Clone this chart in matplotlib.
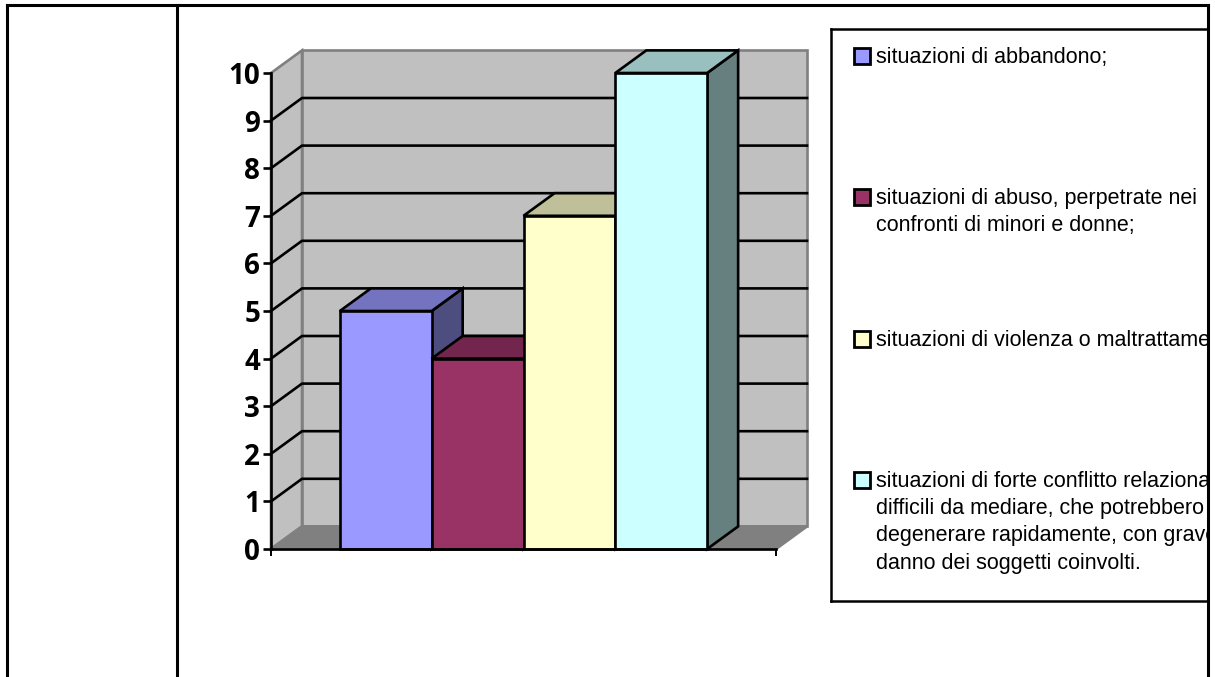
import matplotlib
matplotlib.use('Agg')
import matplotlib.pyplot as plt
import matplotlib.colors as mcolors
from matplotlib.patches import Polygon, Rectangle
import numpy as np

#-------------------------------------------------------------
# data
labels = ['situazioni di abbandono;',
          'situazioni di abuso, perpetrate nei\nconfronti di minori e donne;',
          'situazioni di violenza o maltrattamento;',
          'situazioni di forte conflitto relazionale,\ndifficili da mediare, che potrebbero\n'
          'degenerare rapidamente, con grave\ndanno dei soggetti coinvolti.']
values = [5, 4, 7, 10]
colors = ['#9999FF', '#993366', '#FFFFCC', '#CCFFFF']
yticks = [0, 1, 2, 3, 4, 5, 6, 7, 8, 9, 10]

#-------------------------------------------------------------
# page / layout (pixels)
W, H = 1215, 677
fig = plt.figure(figsize=(W / 100, H / 100), dpi=100)

x0_px, x1_px = 271, 776      # front plane left / right
y0_px, ytop_px = 549, 73     # value 0 / top value
depth_px = (31, 22.6)        # 3d offset of the back wall
gap = 0.75                   # space at each side, in bar widths

n = len(values)
sx = (x1_px - x0_px) / (n + 2 * gap)
sy = (y0_px - ytop_px) / (yticks[-1] - yticks[0])
DX = depth_px[0] / sx
DY = depth_px[1] / sy

ax_l, ax_r, ax_t, ax_b = 240, 840, 30, 580
ax = fig.add_axes([ax_l / W, (H - ax_b) / H, (ax_r - ax_l) / W, (ax_b - ax_t) / H])
xa = -0.5 - gap
xb = n - 0.5 + gap
xmin = xa - (x0_px - ax_l) / sx
ymin = -(ax_b - y0_px) / sy
ax.set_xlim(xmin, xmin + (ax_r - ax_l) / sx)
ax.set_ylim(ymin, ymin + (ax_b - ax_t) / sy)
ax.patch.set_visible(False)

top = yticks[-1]
wall = '#C0C0C0'
edge = '#808080'
lw = 1.9

# side wall, back wall, floor
ax.add_patch(Polygon([(xa, 0), (xa + DX, DY), (xa + DX, top + DY), (xa, top)],
                     closed=True, fc=wall, ec=edge, lw=lw, zorder=1))
ax.add_patch(Rectangle((xa + DX, DY), xb - xa, top, fc=wall, ec=edge, lw=lw, zorder=1))
ax.add_patch(Polygon([(xa, 0), (xb, 0), (xb + DX, DY), (xa + DX, DY)],
                     closed=True, fc=edge, ec=edge, lw=lw, zorder=1))

# gridlines on side + back wall
for v in yticks[1:-1]:
    ax.plot([xa, xa + DX, xb + DX], [v, v + DY, v + DY], color='black', lw=lw, zorder=1.5)

# 3d bars, left to right so the next front face hides the previous side
for i, (v, c) in enumerate(zip(values, colors)):
    rgb = np.array(mcolors.to_rgb(c))
    l, r = i - 0.5, i + 0.5
    ax.add_patch(Polygon([(r, 0), (r + DX, DY), (r + DX, v + DY), (r, v)], closed=True,
                         fc=rgb * 0.5, ec='black', lw=lw, zorder=2))
    ax.add_patch(Polygon([(l, v), (r, v), (r + DX, v + DY), (l + DX, v + DY)], closed=True,
                         fc=rgb * 0.75, ec='black', lw=lw, zorder=2))
    ax.add_patch(Rectangle((l, 0), 1, v, fc=c, ec='black', lw=lw, zorder=2))

# axes lines
for s in ['top', 'right']:
    ax.spines[s].set_visible(False)
ax.spines['left'].set_position(('data', xa))
ax.spines['left'].set_bounds(0, top)
ax.spines['bottom'].set_position(('data', 0))
ax.spines['bottom'].set_bounds(xa, xb)
for s in ['left', 'bottom']:
    ax.spines[s].set_linewidth(lw)
    ax.spines[s].set_zorder(3)

ax.set_yticks(yticks)
ax.set_yticklabels([str(t) for t in yticks], fontfamily='Open Sans', fontweight='bold', fontsize=20)
ax.tick_params(axis='y', direction='out', length=5.8, width=lw, pad=2)
ax.set_xticks([xa, xb])
ax.set_xticklabels(['', ''])
ax.tick_params(axis='x', direction='out', length=5.2, width=1.4)

#-------------------------------------------------------------
# legend box
lg_l, lg_r, lg_t, lg_b = 831, 1208, 29, 601
lg = fig.add_axes([lg_l / W, (H - lg_b) / H, (lg_r - lg_l) / W, (lg_b - lg_t) / H])
lg.set_xlim(0, lg_r - lg_l)
lg.set_ylim(lg_b - lg_t, 0)
lg.set_xticks([])
lg.set_yticks([])
lg.spines['right'].set_visible(False)
for s in ['left', 'top', 'bottom']:
    lg.spines[s].set_linewidth(1.8)

step = 141.3
line_h = 27.2
for k, (lab, c) in enumerate(zip(labels, colors)):
    yc = 27 + k * step
    lg.add_patch(Rectangle((23, yc - 8), 16, 16, fc=c, ec='black', lw=2))
    for j, line in enumerate(lab.split('\n')):
        lg.text(45, yc + 7 + j * line_h, line, fontfamily='Liberation Sans', fontsize=15.5,
                va='baseline', ha='left', clip_on=True)

#-------------------------------------------------------------
# table lines of the page
page = fig.add_axes([0, 0, 1, 1], zorder=5)
page.set_xlim(0, W)
page.set_ylim(H, 0)
page.axis('off')
for x in [7, 177, 1208]:
    page.plot([x, x], [5, H], color='black', lw=2.2)
page.plot([7, 1208], [5, 5], color='black', lw=2.2, solid_capstyle='projecting')

fig.savefig('out.png', dpi=100)
